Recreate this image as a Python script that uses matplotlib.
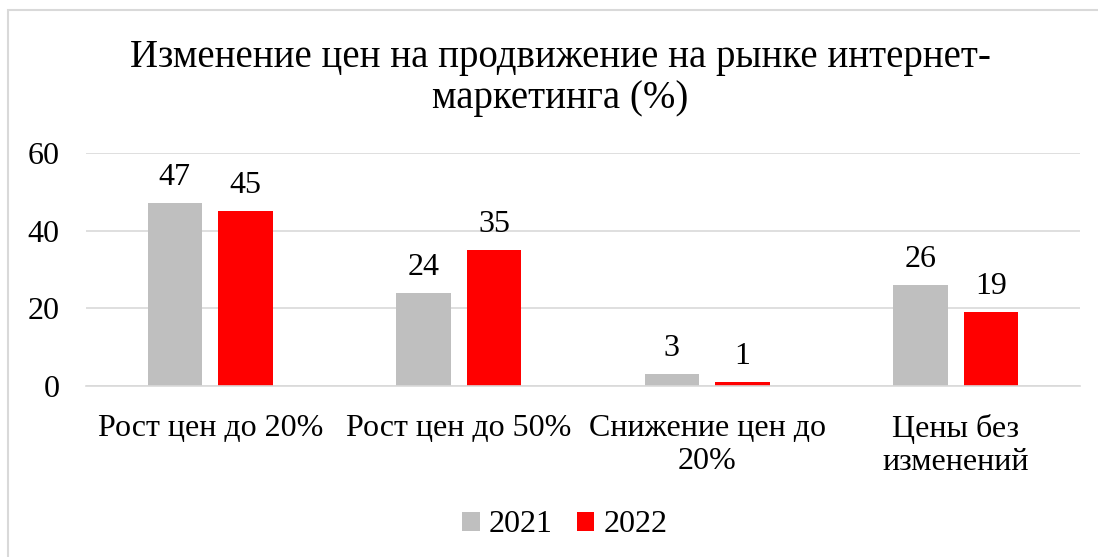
import numpy as np
import matplotlib.pyplot as plt
from matplotlib.patches import Rectangle

categories = ['Рост цен до 20%', 'Рост цен до 50%', 'Снижение цен до\n20%', 'Цены без\nизменений']
years = ['2021', '2022']
vals_2021 = [47, 24, 3, 26]
vals_2022 = [45, 35, 1, 19]
colors = ['#bfbfbf', '#ff0000']

plt.rcParams['font.family'] = ['Liberation Serif', 'DejaVu Serif']

fig = plt.figure(figsize=(10.98, 5.57), dpi=100)
fig.patches.append(Rectangle((8 / 1098, -0.1), 1.2, (557 - 10) / 557 + 0.1,
                             transform=fig.transFigure, fill=False,
                             edgecolor='#d9d9d9', linewidth=1.5))

ax = fig.add_axes([86 / 1098, (557 - 386) / 557, (1080 - 86) / 1098, (386 - 153) / 557])
x = np.arange(len(categories))
w = 0.22
gap = 0.065
b1 = ax.bar(x - (w + gap) / 2, vals_2021, w, color=colors[0], label=years[0])
b2 = ax.bar(x + (w + gap) / 2, vals_2022, w, color=colors[1], label=years[1])
for bars in (b1, b2):
    ax.bar_label(bars, padding=8, fontsize=23)

ax.set_xlim(-0.5, len(categories) - 0.5)
ax.set_ylim(0, 60)
ax.set_yticks([0, 20, 40, 60])
ax.yaxis.grid(True, color='#d9d9d9', linewidth=1.2)
ax.set_axisbelow(True)
for s in ['top', 'right', 'left']:
    ax.spines[s].set_visible(False)
ax.spines['bottom'].set_color('#d9d9d9')
ax.spines['bottom'].set_linewidth(1.2)
ax.tick_params(length=0, labelsize=23)
ax.tick_params(axis='y', pad=19)
ax.tick_params(axis='x', pad=20)
ax.set_xticks(x)
ax.set_xticklabels(categories, linespacing=1.2)

fig.text(0.51, 1 - 78 / 557, 'Изменение цен на продвижение на рынке интернет-\nмаркетинга (%)',
         ha='center', va='center', fontsize=28, linespacing=1.15)

fig.legend(handles=[b1, b2], labels=years, loc='center', bbox_to_anchor=(565 / 1098, 1 - 525 / 557),
           ncol=2, frameon=False, fontsize=23, handlelength=0.55, handleheight=0.55,
           handletextpad=0.3, columnspacing=0.75)

fig.savefig('out.png', dpi=100)
